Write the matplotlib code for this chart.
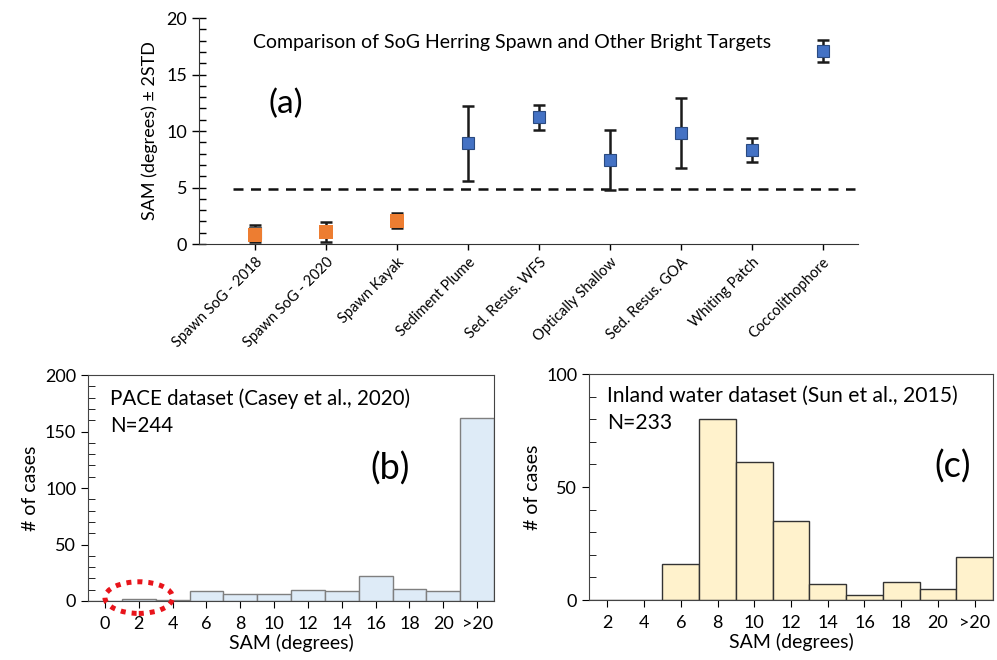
import matplotlib
matplotlib.use("Agg")
import matplotlib.pyplot as plt
from matplotlib.patches import Ellipse
from matplotlib.ticker import MultipleLocator
import numpy as np

plt.rcParams['font.family'] = ['Lato', 'DejaVu Sans']

# ---- Panel (a) data ----
targets = ["Spawn SoG - 2018", "Spawn SoG - 2020", "Spawn Kayak", "Sediment Plume",
           "Sed. Resus. WFS", "Optically Shallow", "Sed. Resus. GOA", "Whiting Patch",
           "Coccolithophore"]
sam_mean = [0.95, 1.05, 2.05, 8.9, 11.2, 7.45, 9.8, 8.3, 17.1]
sam_2std = [0.75, 0.9, 0.65, 3.3, 1.1, 2.65, 3.1, 1.05, 0.95]
spawn_2018_orange = 0.8
threshold = 4.85
spawn_count = 3

# ---- Panel (b) data ----
pace_labels = ["0", "2", "4", "6", "8", "10", "12", "14", "16", "18", "20", ">20"]
pace_counts = [0, 2, 1, 9, 6, 6, 10, 9, 22, 11, 9, 162]

# ---- Panel (c) data ----
inland_labels = ["2", "4", "6", "8", "10", "12", "14", "16", "18", "20", ">20"]
inland_counts = [0, 0, 16, 80, 61, 35, 7, 2, 8, 5, 19]

fig = plt.figure(figsize=(9.97, 6.6), dpi=100)

# ================= (a) =================
ax = fig.add_axes([0.1996, 0.6303, 0.661, 0.3424])
x = np.arange(len(targets))
blue = "#4472C4"
orange = "#ED7D31"
ax.errorbar(x, sam_mean, yerr=sam_2std, fmt='none', ecolor='#1a1a1a',
            elinewidth=1.8, capsize=4, capthick=1.8, zorder=2)
ax.plot(x[:1], sam_mean[:1], 's', ms=9, mfc="#7a8aa8", mec="#555555", mew=0.8, zorder=3)
ax.plot(x[spawn_count:], sam_mean[spawn_count:], 's', ms=9, mfc=blue, mec="#2a4a80",
        mew=0.8, zorder=3)
orange_vals = [spawn_2018_orange] + sam_mean[1:spawn_count]
ax.plot(x[:spawn_count], orange_vals, 's', ms=10, mfc=orange, mec=orange, mew=0, zorder=4)
ax.plot([-0.31, 8.46], [threshold, threshold], ls=(0, (4, 3)), color='#111111', lw=1.8, zorder=1)

ax.set_xlim(-0.79, 8.5)
ax.set_ylim(0, 20)
ax.set_xticks(x)
ax.set_xticklabels(targets, rotation=45, ha='right', rotation_mode='anchor', fontsize=10.5)
ax.set_yticks([0, 5, 10, 15, 20])
ax.yaxis.set_minor_locator(MultipleLocator(1))
ax.tick_params(axis='y', which='major', direction='inout', length=10, width=1, labelsize=13)
ax.tick_params(axis='y', which='minor', direction='in', length=5, width=1)
ax.tick_params(axis='x', which='major', direction='out', length=4, width=1, pad=4)
for s in ['top', 'right']:
    ax.spines[s].set_visible(False)
for s in ['left', 'bottom']:
    ax.spines[s].set_color('#333333')
ax.set_ylabel("SAM (degrees) ± 2STD", fontsize=13, labelpad=6)
ax.text(0.082, 0.89, "Comparison of SoG Herring Spawn and Other Bright Targets",
        transform=ax.transAxes, fontsize=14, va='center', ha='left')
ax.text(0.106, 0.62, "(a)", transform=ax.transAxes, fontsize=24, va='center', ha='left')

# ================= (b) =================
bx = fig.add_axes([0.0883, 0.0894, 0.4072, 0.3424])
xb = np.arange(len(pace_labels))
bx.bar(xb, pace_counts, width=1.0, color="#DEEBF7", edgecolor="#7f7f7f", linewidth=1.0)
bx.set_xlim(-0.5, 11.5)
bx.set_ylim(0, 200)
bx.set_xticks(xb)
bx.set_xticklabels(pace_labels, fontsize=13)
bx.set_yticks([0, 50, 100, 150, 200])
bx.yaxis.set_minor_locator(MultipleLocator(10))
bx.tick_params(axis='y', which='major', direction='out', length=5, labelsize=13)
bx.tick_params(axis='y', which='minor', direction='in', length=5)
bx.tick_params(axis='x', direction='out', length=5, pad=6)
for s in bx.spines.values():
    s.set_color('#444444')
bx.set_xlabel("SAM (degrees)", fontsize=14, labelpad=1)
bx.set_ylabel("# of cases", fontsize=14, labelpad=4)
bx.text(0.055, 0.895, "PACE dataset (Casey et al., 2020)", transform=bx.transAxes,
        fontsize=14.8, va='center')
bx.text(0.055, 0.775, "N=244", transform=bx.transAxes, fontsize=14.8, va='center')
bx.text(0.745, 0.585, "(b)", transform=bx.transAxes, fontsize=26, va='center', ha='center')
ell = Ellipse((1.0, 3), width=2.0, height=28, fill=False, edgecolor='#e8141b',
              linestyle=(0, (1, 1.2)), linewidth=3.6, clip_on=False, zorder=5)
bx.add_patch(ell)

# ================= (c) =================
cx = fig.add_axes([0.5908, 0.0909, 0.4052, 0.3424])
xc = np.arange(len(inland_labels))
cx.bar(xc, inland_counts, width=1.0, color="#FFF2CC", edgecolor="#333333", linewidth=1.0)
cx.set_xlim(-0.5, 10.5)
cx.set_ylim(0, 100)
cx.set_xticks(xc)
cx.set_xticklabels(inland_labels, fontsize=13)
cx.set_yticks([0, 50, 100])
cx.yaxis.set_minor_locator(MultipleLocator(10))
cx.tick_params(axis='y', which='major', direction='out', length=5, labelsize=13)
cx.tick_params(axis='y', which='minor', direction='in', length=5)
cx.tick_params(axis='x', direction='out', length=5, pad=6)
for s in cx.spines.values():
    s.set_color('#444444')
cx.set_xlabel("SAM (degrees)", fontsize=14, labelpad=1)
cx.set_ylabel("# of cases", fontsize=14, labelpad=4)
cx.text(0.045, 0.905, "Inland water dataset (Sun et al., 2015)", transform=cx.transAxes,
        fontsize=15.2, va='center')
cx.text(0.045, 0.785, "N=233", transform=cx.transAxes, fontsize=15.2, va='center')
cx.text(0.9, 0.59, "(c)", transform=cx.transAxes, fontsize=26, va='center', ha='center')

fig.savefig("out.png", dpi=100)
